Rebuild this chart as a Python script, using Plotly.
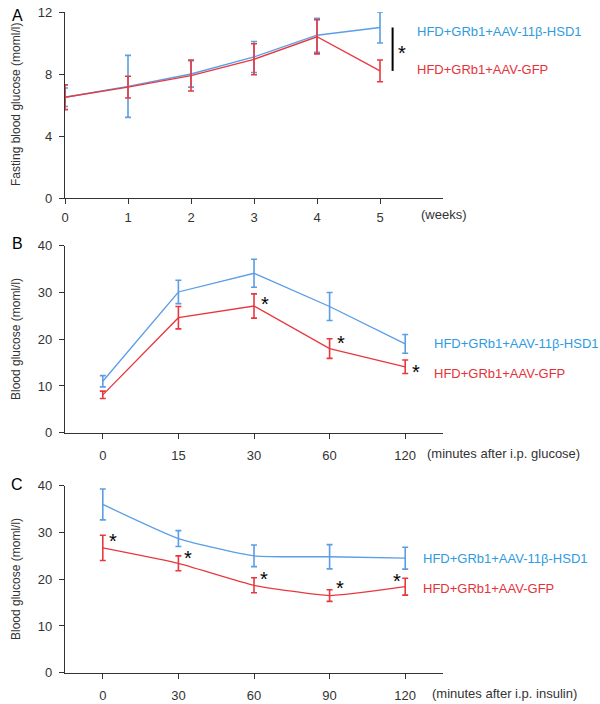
import plotly.graph_objects as go

W, H = 600, 704
BLUE_LINE = "#5a9ee6"
RED_LINE = "#e8383f"
BLUE_TXT = "#2f9be0"
RED_TXT = "#e5323a"
AX = "#333333"
FONT = "Liberation Sans, Arial, sans-serif"

# ---- Panel A data (weeks) ----
weeks = [0, 1, 2, 3, 4, 5]
a_hsd1 = [6.5, 7.2, 8.0, 9.1, 10.5, 11.0]
a_hsd1_err = [0.6, 2.0, 0.85, 1.0, 1.1, 1.0]
a_gfp = [6.5, 7.15, 7.9, 8.95, 10.4, 8.2]
a_gfp_err = [0.8, 0.7, 1.0, 1.0, 1.1, 0.7]

# ---- Panel B data (GTT) ----
gtt_min = ["0", "15", "30", "60", "120"]
b_hsd1 = [11.0, 30.1, 34.1, 27.0, 19.0]
b_hsd1_err = [1.2, 2.5, 3.0, 3.0, 2.0]
b_gfp = [8.1, 24.6, 27.1, 18.0, 14.1]
b_gfp_err = [0.8, 2.4, 2.6, 2.1, 1.45]
b_star_idx = [2, 3, 4]

# ---- Panel C data (ITT) ----
itt_min = ["0", "30", "60", "90", "120"]
c_hsd1 = [36.0, 28.7, 25.0, 24.8, 24.5]
c_hsd1_err = [3.3, 1.7, 2.3, 2.6, 2.35]
c_gfp = [26.7, 23.4, 18.7, 16.5, 18.4]
c_gfp_err = [2.7, 1.6, 1.6, 1.25, 1.8]

label_hsd1 = "HFD+GRb1+AAV-11β-HSD1"
label_gfp = "HFD+GRb1+AAV-GFP"


def px_x(p):
    return p / W


def px_y(p):
    return 1 - p / H


fig = go.Figure()


def add_series(x, y, err, color, xa, ya, shape, smoothing=0.5):
    fig.add_trace(go.Scatter(
        x=x, y=y, mode="lines", xaxis=xa, yaxis=ya,
        line=dict(color=color, width=1.3, shape=shape, smoothing=smoothing),
        error_y=dict(type="data", array=err, visible=True, color=color,
                     thickness=1.6, width=3),
        showlegend=False, hoverinfo="skip"))


add_series(weeks, a_hsd1, a_hsd1_err, BLUE_LINE, "x", "y", "linear")
add_series(weeks, a_gfp, a_gfp_err, RED_LINE, "x", "y", "linear")
add_series(gtt_min, b_hsd1, b_hsd1_err, BLUE_LINE, "x2", "y2", "linear")
add_series(gtt_min, b_gfp, b_gfp_err, RED_LINE, "x2", "y2", "linear")
add_series(itt_min, c_hsd1, c_hsd1_err, BLUE_LINE, "x3", "y3", "spline", 0.5)
add_series(itt_min, c_gfp, c_gfp_err, RED_LINE, "x3", "y3", "spline", 0.4)

xdom = [px_x(65), px_x(443)]
tickfont = dict(family=FONT, size=13, color=AX)
common_x = dict(showline=True, linecolor=AX, linewidth=1.2, ticks="outside",
                ticklen=5, tickcolor=AX, tickwidth=1.2, showgrid=False,
                zeroline=False, tickfont=tickfont, domain=xdom, automargin=False)
common_y = dict(showline=True, linecolor=AX, linewidth=1.2, ticks="outside",
                ticklen=5, tickcolor=AX, tickwidth=1.2, showgrid=False,
                zeroline=False, tickfont=tickfont, ticklabelstandoff=4, automargin=False)

fig.update_layout(
    width=W, height=H, margin=dict(l=0, r=0, t=0, b=0, pad=0),
    paper_bgcolor="white", plot_bgcolor="white",
    font=dict(family=FONT, color=AX),
    xaxis=dict(common_x, range=[0, 6], tickvals=[0, 1, 2, 3, 4, 5], anchor="y",
               ticklabelstandoff=2),
    yaxis=dict(common_y, range=[0, 12], tickvals=[0, 4, 8, 12], anchor="x",
               domain=[px_y(198), px_y(12)]),
    xaxis2=dict(common_x, type="category", range=[-0.5, 4.5], anchor="y2",
                categoryorder="array", categoryarray=gtt_min, ticklabelstandoff=6),
    yaxis2=dict(common_y, range=[0, 40], tickvals=[0, 10, 20, 30, 40], anchor="x2",
                domain=[px_y(432.7), px_y(245.7)]),
    xaxis3=dict(common_x, type="category", range=[-0.5, 4.5], anchor="y3",
                categoryorder="array", categoryarray=itt_min, ticklabelstandoff=6),
    yaxis3=dict(common_y, range=[0, 40], tickvals=[0, 10, 20, 30, 40], anchor="x3",
                domain=[px_y(672.7), px_y(485.7)]),
)

ann = []
# panel letters
for letter, yp in [("A", 15), ("B", 243), ("C", 484)]:
    ann.append(dict(text=letter, x=px_x(17), y=px_y(yp), xref="paper", yref="paper",
                    xanchor="center", yanchor="middle",
                    showarrow=False, font=dict(family=FONT, size=16, color="black")))
# y titles
for t, yp in [("Fasting blood glucose (moml/l)", 105), ("Blood glucose (moml/l)", 339),
              ("Blood glucose (moml/l)", 579)]:
    ann.append(dict(text=t, x=px_x(16), y=px_y(yp), xref="paper", yref="paper",
                    xanchor="center", yanchor="middle",
                    textangle=-90, showarrow=False,
                    font=dict(family=FONT, size=12, color=AX)))
# x unit labels
for t, xp, yp in [("(weeks)", 443.5, 214), ("(minutes after i.p. glucose)", 503.5, 453),
                  ("(minutes after i.p. insulin)", 504, 693)]:
    ann.append(dict(text=t, x=px_x(xp), y=px_y(yp), xref="paper", yref="paper",
                    xanchor="center", yanchor="middle",
                    showarrow=False, font=dict(family=FONT, size=13, color=AX)))
# series labels
for t, col, xp, yp in [(label_hsd1, BLUE_TXT, 415, 31), (label_gfp, RED_TXT, 415, 69),
                       (label_hsd1, BLUE_TXT, 432, 343), (label_gfp, RED_TXT, 432, 373),
                       (label_hsd1, BLUE_TXT, 421, 558), (label_gfp, RED_TXT, 421, 588)]:
    ann.append(dict(text=t, x=px_x(xp), y=px_y(yp), xref="paper", yref="paper",
                    xanchor="left", yanchor="middle", showarrow=False,
                    font=dict(family=FONT, size=13, color=col)))

star_font = dict(family=FONT, size=20, color="black")
# Panel A significance star
ann.append(dict(text="*", x=5.35, y=(a_hsd1[5] + a_gfp[5]) / 2, xref="x", yref="y",
                xanchor="center", yanchor="middle",
                showarrow=False, font=star_font, yshift=-4))
# Panel B stars
b_star_shift = [(11, -10), (11, -4), (11, -12)]
for i, (dx, dy) in zip(b_star_idx, b_star_shift):
    ann.append(dict(text="*", x=i, y=b_gfp[i] + b_gfp_err[i], xref="x2", yref="y2",
                    xanchor="center", yanchor="middle",
                    showarrow=False, font=star_font, xshift=dx, yshift=dy))
# Panel C stars
c_star_shift = [(10, -6), (10, -2), (10, -1), (10, 2), (-8, -3)]
for i, (dx, dy) in enumerate(c_star_shift):
    ann.append(dict(text="*", x=i, y=c_gfp[i] + c_gfp_err[i], xref="x3", yref="y3",
                    xanchor="center", yanchor="middle",
                    showarrow=False, font=star_font, xshift=dx, yshift=dy))
fig.update_layout(annotations=ann)

# significance bar in panel A
fig.add_shape(type="line", xref="x", yref="y", x0=5.2, x1=5.2,
              y0=a_gfp[5], y1=a_hsd1[5], line=dict(color="black", width=2))

fig.write_html("out.html", config={"displayModeBar": False},
               post_script="document.body.style.margin='0';"
                           "document.body.style.overflow='hidden';")
